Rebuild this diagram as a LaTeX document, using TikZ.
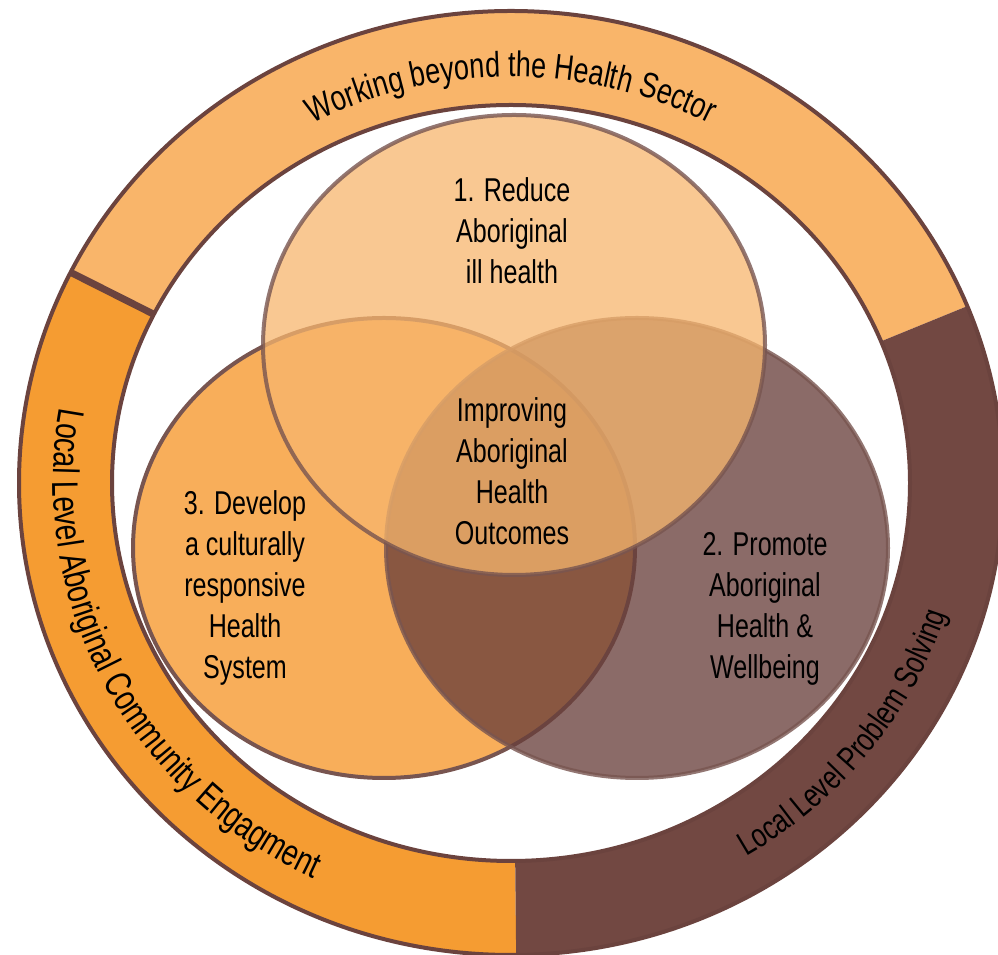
\documentclass[tikz,border=0pt]{standalone}
\usepackage{fontspec}
\setmainfont{Liberation Sans}[FakeStretch=0.76]
\usetikzlibrary{calc,decorations.text}

\definecolor{ringlight}{RGB}{249,181,106}
\definecolor{ringorange}{RGB}{245,156,50}
\definecolor{ringbrown}{RGB}{114,72,66}
\definecolor{rimline}{RGB}{107,67,62}
\definecolor{goalone}{RGB}{247,182,110}
\definecolor{goaltwo}{RGB}{104,62,58}
\definecolor{goalthree}{RGB}{248,174,90}
\definecolor{goalline}{RGB}{120,85,80}

\newcommand{\goalfont}{\fontsize{33}{41}\selectfont}

\begin{document}
\begin{tikzpicture}[x=1pt,y=1pt,
		goal/.style={draw=goalline, line width=4pt},
		goaltext/.style={align=center, font=\goalfont, text=black},
		ringtext/.style 2 args={decorate, decoration={text along path, text align=center, text={|\fontsize{#1}{#1}\selectfont|#2}}}]
			\useasboundingbox (0,0) rectangle (998,955);
			\clip (0,0) rectangle (998,955);
			\coordinate (c) at (511,472);
			% outer ring, three parts
			\fill[ringlight] ($(c)+(22:492 and 472)$) arc[start angle=22, end angle=153.5, x radius=492, y radius=472]
				-- ($(c)+(153.5:399 and 378)$) arc[start angle=153.5, end angle=22, x radius=399, y radius=378] -- cycle;
			\fill[ringorange] ($(c)+(153.5:492 and 472)$) arc[start angle=153.5, end angle=270.6, x radius=492, y radius=472]
				-- ($(c)+(270.6:399 and 378)$) arc[start angle=270.6, end angle=153.5, x radius=399, y radius=378] -- cycle;
			\fill[ringbrown] ($(c)+(270.6:492 and 472)$) arc[start angle=270.6, end angle=382, x radius=492, y radius=472]
				-- ($(c)+(382:399 and 378)$) arc[start angle=382, end angle=270.6, x radius=399, y radius=378] -- cycle;
			\draw[rimline, line width=4pt] (c) ellipse [x radius=492, y radius=472];
			\draw[rimline, line width=4pt] (c) ellipse [x radius=399, y radius=378];
			\draw[rimline, line width=7pt] ($(c)+(153.5:492 and 472)$) -- ($(c)+(153.5:399 and 378)$);
			% the three goals
			\draw[goal, fill=goalthree] (384,407) ellipse [x radius=251, y radius=230];
			\draw[goal, fill=goaltwo, fill opacity=0.77, draw opacity=0.8] (637,407) ellipse [x radius=251, y radius=230];
			\draw[goal, fill=goalone, fill opacity=0.75, draw opacity=0.8] (514,610) ellipse [x radius=251, y radius=230];
			\node[goaltext] (reduce) at (512,724) {1. Reduce\\Aboriginal\\ill health};
			\node[goaltext] (improve) at (512,484) {Improving\\Aboriginal\\Health\\Outcomes};
			\node[goaltext] (develop) at (245,367) {3. Develop\\a culturally\\responsive\\Health\\System};
			\node[goaltext] (promote) at (765,346) {2. Promote\\Aboriginal\\Health \&\\Wellbeing};
			% ring labels
			\path[ringtext={35.5}{Working beyond the Health Sector}] ($(c)+(125:427 and 406)$) arc[start angle=125, end angle=55, x radius=427, y radius=406];
			\path[ringtext={37}{Local Level Aboriginal Community Engagment}] ($(c)+(156:458 and 438)$) arc[start angle=156, end angle=258, x radius=458, y radius=438];
			\path[ringtext={33.5}{Local Level Problem Solving}] ($(c)+(-72:456 and 436)$) arc[start angle=-72, end angle=-4, x radius=456, y radius=436];
	\end{tikzpicture}
\end{document}
